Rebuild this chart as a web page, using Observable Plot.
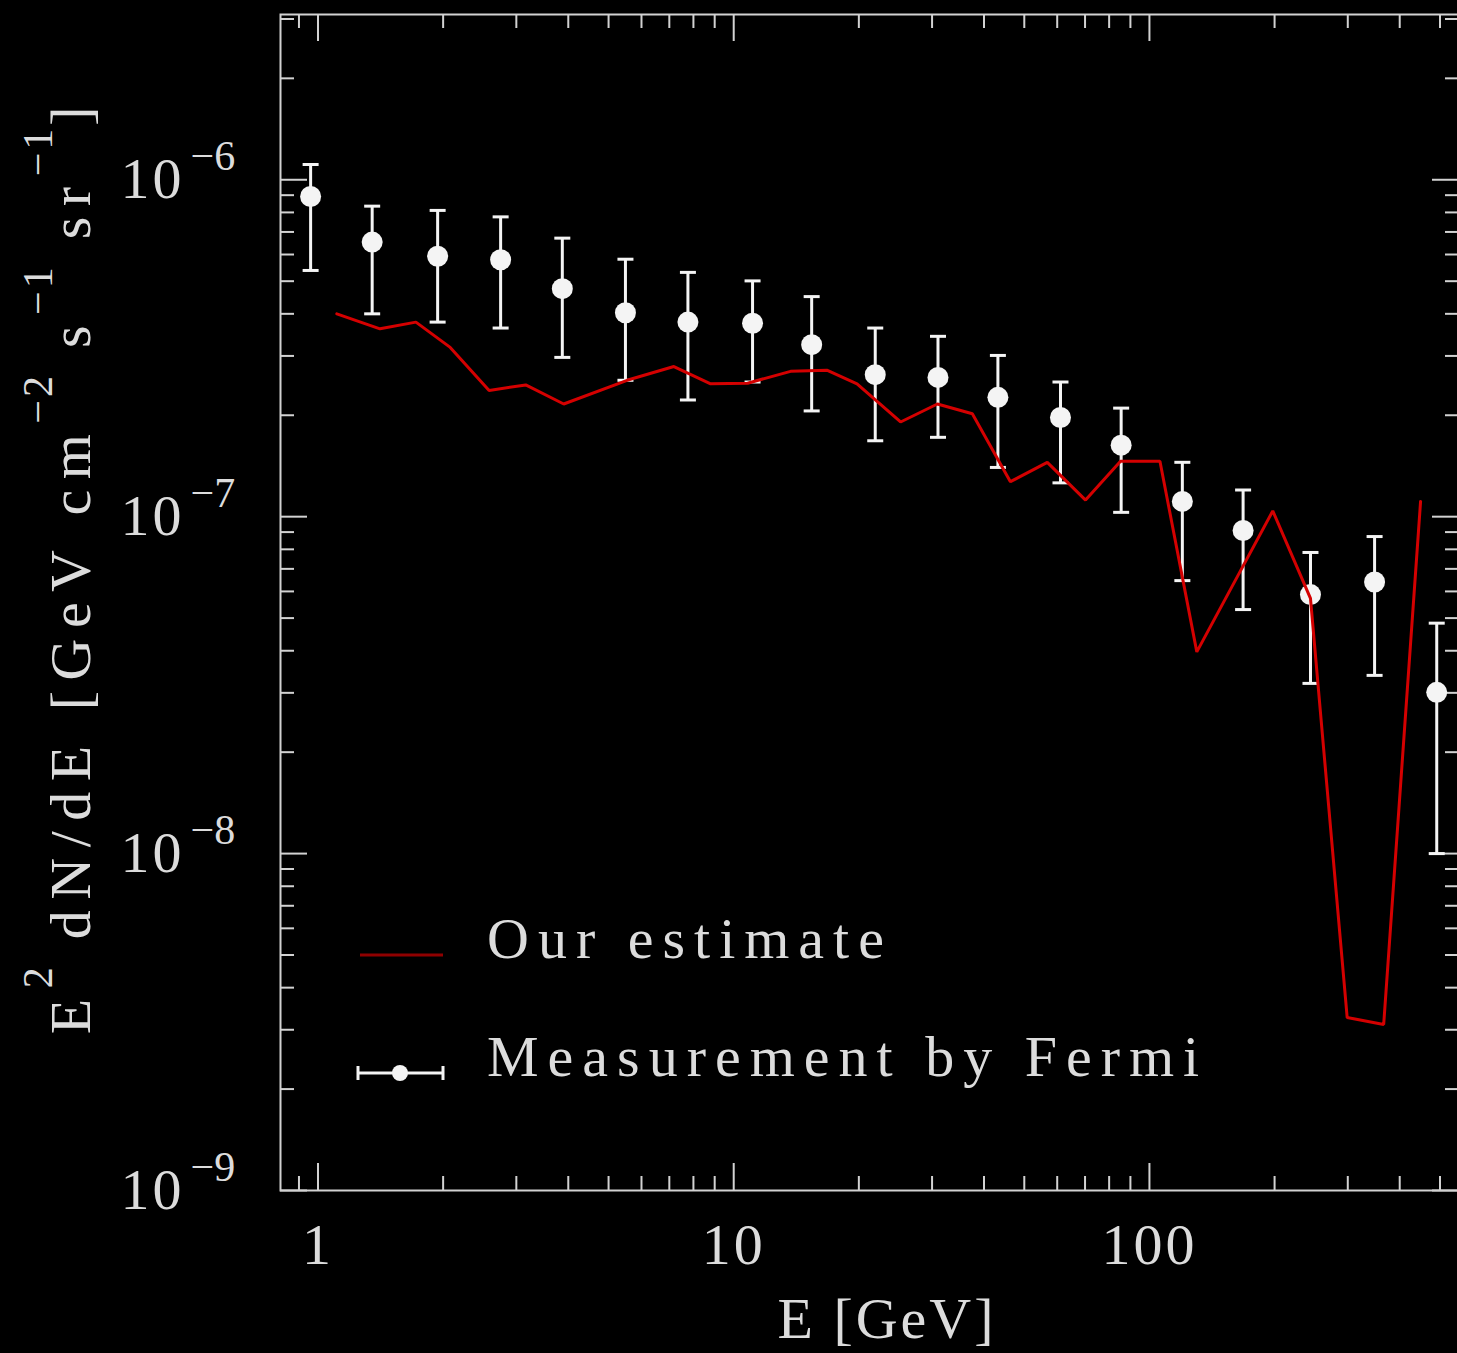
<!DOCTYPE html>
<html><head><meta charset="utf-8">
<script src="https://cdn.jsdelivr.net/npm/d3@7"></script>
<script src="https://cdn.jsdelivr.net/npm/@observablehq/plot@0.6"></script>
<style>
html,body{margin:0;padding:0;background:#000;overflow:hidden;}
#chart svg{display:block;max-width:none !important;}
#chart g[aria-label="x-axis tick label"] text{letter-spacing:3px;}
#chart g[aria-label="y-axis tick label"] text{letter-spacing:3px;}
</style></head><body><div id="chart"></div>
<script>
// ---- Fermi measurement (energy in GeV, E^2 dN/dE in GeV cm^-2 s^-1 sr^-1) ----
const fermiE    = [0.96, 1.35, 1.94, 2.75, 3.87, 5.49, 7.76, 11.1, 15.4, 21.9, 31.0, 43.2, 61.1, 85.5, 120, 168, 244, 348, 491];
const fermiFlux = [8.92e-7, 6.53e-7, 5.93e-7, 5.79e-7, 4.75e-7, 4.03e-7, 3.78e-7, 3.75e-7, 3.24e-7, 2.64e-7, 2.59e-7, 2.26e-7, 1.97e-7, 1.63e-7, 1.11e-7, 9.10e-8, 5.87e-8, 6.40e-8, 3.01e-8];
const fermiHi   = [1.11e-6, 8.35e-7, 8.11e-7, 7.76e-7, 6.71e-7, 5.81e-7, 5.31e-7, 5.01e-7, 4.50e-7, 3.63e-7, 3.43e-7, 3.01e-7, 2.51e-7, 2.10e-7, 1.45e-7, 1.20e-7, 7.83e-8, 8.73e-8, 4.83e-8];
const fermiLo   = [5.38e-7, 4.00e-7, 3.78e-7, 3.63e-7, 2.97e-7, 2.54e-7, 2.22e-7, 2.51e-7, 2.06e-7, 1.68e-7, 1.72e-7, 1.40e-7, 1.26e-7, 1.03e-7, 6.46e-8, 5.30e-8, 3.20e-8, 3.38e-8, 1.00e-8];

// ---- Our estimate ----
const estimateE    = [1.11, 1.41, 1.72, 2.08, 2.58, 3.16, 3.90, 5.54, 7.18, 8.80, 10.8, 13.7, 16.8, 19.8, 25.2, 30.9, 37.5, 46.3, 56.8, 70.2, 85.2, 106, 130, 198, 244, 299, 366, 449];
const estimateFlux = [4.00e-7, 3.61e-7, 3.78e-7, 3.18e-7, 2.37e-7, 2.46e-7, 2.16e-7, 2.54e-7, 2.79e-7, 2.48e-7, 2.49e-7, 2.70e-7, 2.72e-7, 2.48e-7, 1.91e-7, 2.16e-7, 2.02e-7, 1.27e-7, 1.45e-7, 1.12e-7, 1.46e-7, 1.46e-7, 3.97e-8, 1.04e-7, 5.72e-8, 3.26e-9, 3.11e-9, 1.11e-7];

// ---- Ticks and labels ----
const xMajorTicks = [1, 10, 100];
const xTickLabels = ["1", "10", "100"];
const xMinorTicks = [0.9, 2, 3, 4, 5, 6, 7, 8, 9, 20, 30, 40, 50, 60, 70, 80, 90, 200, 300, 400, 500];
const yMajorTicks = [1e-9, 1e-8, 1e-7, 1e-6];
const yTickBase = "10";
const yTickExponents = ["−9", "−8", "−7", "−6"];
const yMinorTicks = [2e-9,3e-9,4e-9,5e-9,6e-9,7e-9,8e-9,9e-9, 2e-8,3e-8,4e-8,5e-8,6e-8,7e-8,8e-8,9e-8, 2e-7,3e-7,4e-7,5e-7,6e-7,7e-7,8e-7,9e-7, 2e-6,3e-6];
const xAxisLabel = "E [GeV]";
const yAxisLabelParts = [["E",false],["2",true],[" dN/dE [GeV cm",false],["−2",true],[" s",false],["−1",true],[" sr",false],["−1",true],["]",false]];
const legendLabels = ["Our estimate", "Measurement by Fermi"];

// ---- Layout / style ----
const W = 1460, H = 1353;
const mL = 280, mT = 14, mB = 163, mR = 1;
const innerW = W - mL - mR, innerH = H - mT - mB;
const majorLen = 27, minorLen = 14;
const axisColor = "#d2d2d2", textColor = "#dcdcdc", pointColor = "#f4f4f4", lineColor = "#d40000";
const serif = "'Liberation Serif', 'DejaVu Serif', serif";

const fermi = fermiE.map((e, i) => ({E: e, flux: fermiFlux[i], hi: fermiHi[i], lo: fermiLo[i]}));
const estimate = estimateE.map((e, i) => ({E: e, flux: estimateFlux[i]}));
const hbar = {draw(ctx, size) { const r = Math.sqrt(size / Math.PI); ctx.moveTo(-r, 0); ctx.lineTo(r, 0); }};

const tickStyle = {stroke: axisColor, strokeWidth: 2};
const plot = Plot.plot({
  width: W, height: H,
  marginLeft: mL, marginTop: mT, marginBottom: mB, marginRight: mR,
  style: {background: "#000", color: textColor, fontFamily: serif},
  x: {type: "log", domain: [0.8125, 557]},
  y: {type: "log", domain: [1e-9, 3.094e-6]},
  marks: [
    // inward ticks, bottom & top
    Plot.ruleX(xMajorTicks, {x: d => d, insetTop: innerH - majorLen, ...tickStyle}),
    Plot.ruleX(xMinorTicks, {x: d => d, insetTop: innerH - minorLen, ...tickStyle}),
    Plot.ruleX(xMajorTicks, {x: d => d, insetBottom: innerH - majorLen, ...tickStyle}),
    Plot.ruleX(xMinorTicks, {x: d => d, insetBottom: innerH - minorLen, ...tickStyle}),
    // inward ticks, left & right
    Plot.ruleY(yMajorTicks, {y: d => d, insetRight: innerW - majorLen, ...tickStyle}),
    Plot.ruleY(yMinorTicks, {y: d => d, insetRight: innerW - minorLen, ...tickStyle}),
    Plot.ruleY(yMajorTicks, {y: d => d, insetLeft: innerW - majorLen, ...tickStyle}),
    Plot.ruleY(yMinorTicks, {y: d => d, insetLeft: innerW - minorLen, ...tickStyle}),
    Plot.frame({stroke: axisColor, strokeWidth: 2}),
    Plot.axisX(xMajorTicks, {anchor: "bottom", tickSize: 0, tickPadding: 32, label: null,
      tickFormat: d => xTickLabels[xMajorTicks.indexOf(d)], fontSize: 58, fill: textColor}),
    Plot.axisY(yMajorTicks, {anchor: "left", tickSize: 0, tickPadding: 96, label: null,
      tickFormat: () => yTickBase, fontSize: 58, fill: textColor}),
    Plot.text(yMajorTicks, {y: d => d, text: (d, i) => yTickExponents[i], frameAnchor: "left",
      dx: -90, dy: -23, textAnchor: "start", fontSize: 42, fill: textColor}),
    // Fermi error bars, caps and points
    Plot.ruleX(fermi, {x: "E", y1: "lo", y2: "hi", stroke: pointColor, strokeWidth: 3}),
    Plot.dot(fermi, {x: "E", y: "hi", symbol: hbar, r: 8, stroke: pointColor, strokeWidth: 3}),
    Plot.dot(fermi, {x: "E", y: "lo", symbol: hbar, r: 8, stroke: pointColor, strokeWidth: 3}),
    Plot.dot(fermi, {x: "E", y: "flux", r: 10.5, fill: pointColor, stroke: "none"}),
    // estimate
    Plot.line(estimate, {x: "E", y: "flux", stroke: lineColor, strokeWidth: 3, strokeLinejoin: "miter"})
  ]
});
document.getElementById("chart").append(plot);

const svg = d3.select(plot);
// x-axis label
svg.append("text").attr("x", 887).attr("y", 1338).attr("text-anchor", "middle")
  .attr("font-family", serif).attr("font-size", 58).attr("letter-spacing", "3px")
  .attr("fill", textColor).attr("xml:space", "preserve").text(xAxisLabel);
// y-axis label
const yl = svg.append("text").attr("transform", "rotate(-90)").attr("x", -565).attr("y", 90)
  .attr("text-anchor", "middle").attr("font-family", serif).attr("font-size", 58)
  .attr("letter-spacing", "10.5px").attr("fill", textColor).attr("xml:space", "preserve");
yAxisLabelParts.forEach(([t, sup], i) => {
  const prevSup = i > 0 && yAxisLabelParts[i - 1][1];
  const ts = yl.append("tspan").text(t);
  if (sup) ts.attr("dy", -38).attr("font-size", 42).attr("letter-spacing", "3px");
  else if (prevSup) ts.attr("dy", 38);
});
// legend
const lg = svg.append("g").attr("font-family", serif).attr("font-size", 58).attr("fill", textColor)
  .attr("letter-spacing", "9px").attr("text-anchor", "start");
lg.append("line").attr("x1", 360).attr("x2", 443).attr("y1", 955).attr("y2", 955).attr("stroke", "#8f0000").attr("stroke-width", 3);
lg.append("text").attr("x", 487).attr("y", 958).attr("text-anchor", "start").text(legendLabels[0]);
lg.append("line").attr("x1", 358).attr("x2", 443).attr("y1", 1073).attr("y2", 1073).attr("stroke", pointColor).attr("stroke-width", 3);
lg.append("line").attr("x1", 358).attr("x2", 358).attr("y1", 1066).attr("y2", 1080).attr("stroke", pointColor).attr("stroke-width", 3);
lg.append("line").attr("x1", 443).attr("x2", 443).attr("y1", 1066).attr("y2", 1080).attr("stroke", pointColor).attr("stroke-width", 3);
lg.append("circle").attr("cx", 400).attr("cy", 1073).attr("r", 8).attr("fill", pointColor);
lg.append("text").attr("x", 487).attr("y", 1076).attr("text-anchor", "start").text(legendLabels[1]);
</script></body></html>
